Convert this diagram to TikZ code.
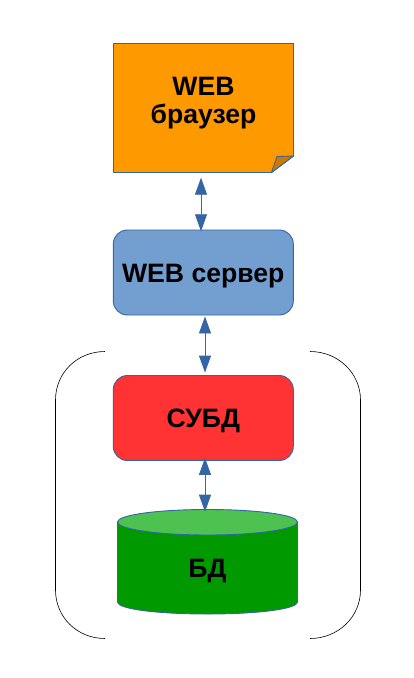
\documentclass[tikz,border=0pt]{standalone}
\usepackage{fontspec}
\setmainfont{Liberation Sans}
\usetikzlibrary{arrows.meta}
\definecolor{edgeblue}{HTML}{3465A4}
\definecolor{noteorange}{HTML}{FF9900}
\definecolor{foldorange}{HTML}{CC7A00}
\definecolor{serverblue}{HTML}{729FCF}
\definecolor{dbmsred}{HTML}{FF3333}
\definecolor{dbgreen}{HTML}{009900}
\definecolor{dbtop}{HTML}{4DC251}
\tikzset{
  x=1pt,y=-1pt,
  label text/.style={font=\fontsize{26.6}{28}\selectfont\bfseries,align=center,text=black},
  outline/.style={draw=edgeblue,line width=0.9pt,line join=round},
  round box/.style={outline,rounded corners=14pt,minimum width=180pt,minimum height=85pt,inner sep=0pt,label text},
  plain label/.style={inner sep=0pt,minimum width=180pt,label text},
  link/.style={draw=edgeblue,line width=0.9pt,{Triangle[length=17pt,width=12pt]}-{Triangle[length=17pt,width=12pt]}},
  bracket/.style={draw=black,line width=0.6pt}
}
\begin{document}
\begin{tikzpicture}
\useasboundingbox (0,0) rectangle (414,678);
% note shape
\path[outline,fill=noteorange] (113.5,43.5) -- (293.5,43.5) -- (293.5,156) -- (271.5,172.5) -- (113.5,172.5) -- cycle;
\path[outline,fill=foldorange] (271.5,172.5) -- (277,156.5) -- (293.5,156) -- cycle;
\node[plain label,minimum height=120pt] (browser) at (203.5,103.5) {WEB\\браузер};
\node[round box,fill=serverblue] (server) at (203.3,272.5) {\raisebox{-9.5pt}[0pt][0pt]{WEB сервер}};
\node[round box,fill=dbmsred] (dbms) at (203.3,418) {\raisebox{-9.5pt}[0pt][0pt]{СУБД}};
% cylinder
\path[outline,fill=dbgreen] (117.5,522) -- (117.5,602) .. controls (117.5,609) and (157,614) .. (207.5,614) .. controls (258,614) and (297.5,609) .. (297.5,602) -- (297.5,522) -- cycle;
\path[outline,fill=dbtop] (207.5,509.5) .. controls (258,509.5) and (297.5,515) .. (297.5,522) .. controls (297.5,529) and (258,535) .. (207.5,535) .. controls (157,535) and (117.5,529) .. (117.5,522) .. controls (117.5,515) and (157,509.5) .. (207.5,509.5) -- cycle;
\node[plain label,minimum height=80pt] (db) at (207.5,571) {БД};
\coordinate (dbtopc) at (205,511.7);
% connectors
\draw[link] ([xshift=-2.5pt,yshift=-14pt]browser.south) -- ([xshift=-2.3pt,yshift=-1.7pt]server.north);
\draw[link] ([xshift=1.7pt,yshift=-1pt]server.south) -- ([xshift=1.7pt,yshift=2.5pt]dbms.north);
\draw[link] ([xshift=1.7pt,yshift=3pt]dbms.south) -- (dbtopc);
% brackets
\draw[bracket] (105,351.5) .. controls (77,351.5) and (55.5,373) .. (55.5,400) -- (55.5,590) .. controls (55.5,617) and (77,638.5) .. (105,638.5);
\draw[bracket] (310,351.5) .. controls (338,351.5) and (360.5,373) .. (360.5,400) -- (360.5,590) .. controls (360.5,617) and (338,638.5) .. (310,638.5);
\end{tikzpicture}
\end{document}
